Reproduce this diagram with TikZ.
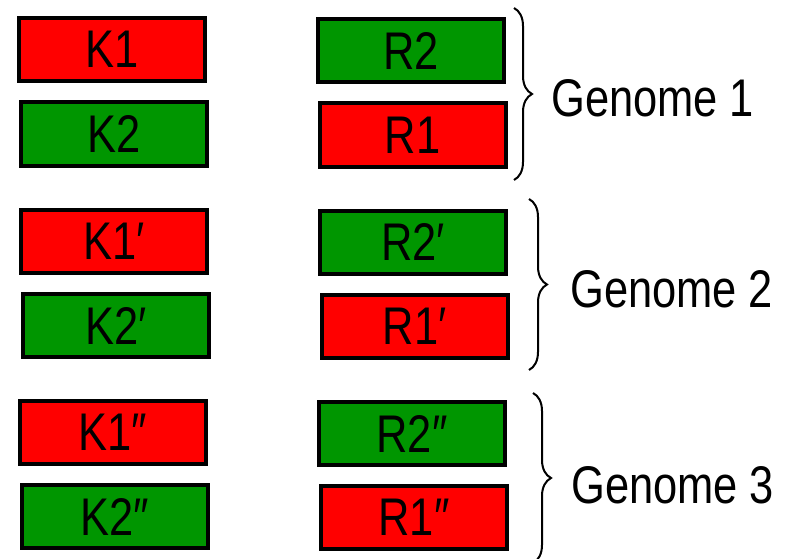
\documentclass[tikz,border=0pt]{standalone}
\usepackage{fontspec}
\newfontfamily\narrowsans[FakeStretch=0.82]{Liberation Sans}
\usetikzlibrary{decorations.pathreplacing}
\definecolor{gred}{RGB}{255,0,0}
\definecolor{ggreen}{RGB}{0,150,0}
\begin{document}
\begin{tikzpicture}[x=1pt,y=-1pt,
  gene/.style={draw=black,line width=4pt,minimum width=186pt,minimum height=63pt,inner sep=0pt,
    font=\narrowsans\fontsize{53}{60}\selectfont},
  redbox/.style={gene,fill=gred},
  greenbox/.style={gene,fill=ggreen},
  glabel/.style={anchor=base west,inner sep=0pt,font=\narrowsans\fontsize{53}{60}\selectfont},
  gbrace/.style={decorate,decoration={brace,amplitude=18pt},line width=2pt}]
\useasboundingbox (0,0) rectangle (792,559);
% Genome 1
\node[redbox]   (k1)  at (112,49.5)  {K1};
\node[greenbox] (k2)  at (114,134)   {K2};
\node[greenbox] (r2)  at (411,51)    {R2};
\node[redbox]   (r1)  at (412.5,135) {R1};
% Genome 2
\node[redbox]   (k1p) at (114,241.5) {K1′};
\node[greenbox] (k2p) at (116,325.5) {K2′};
\node[greenbox] (r2p) at (413,242)   {R2′};
\node[redbox]   (r1p) at (414.5,326.5) {R1′};
% Genome 3
\node[redbox]   (k1pp) at (113,432.5) {K1″};
\node[greenbox] (k2pp) at (114.5,516.5) {K2″};
\node[greenbox] (r2pp) at (412,433.5) {R2″};
\node[redbox]   (r1pp) at (414,517.5) {R1″};
% braces
\coordinate (b1t) at (514,8);   \coordinate (b1b) at (514,180);
\coordinate (b2t) at (529,199); \coordinate (b2b) at (529,370);
\coordinate (b3t) at (533,393); \coordinate (b3b) at (533,563);
\draw[gbrace] (b1t) -- (b1b);
\draw[gbrace] (b2t) -- (b2b);
\draw[gbrace] (b3t) -- (b3b);
% labels
\node[glabel] (g1) at (551,117) {Genome 1};
\node[glabel] (g2) at (570,307) {Genome 2};
\node[glabel] (g3) at (571,503) {Genome 3};
\end{tikzpicture}
\end{document}
